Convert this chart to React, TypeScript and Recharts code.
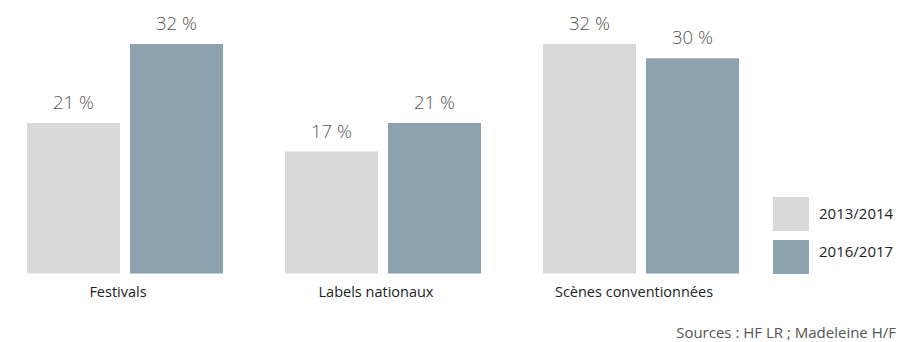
import React from 'react';
import { BarChart, Bar, XAxis, YAxis, LabelList } from 'recharts';

const categories = ['Festivals', 'Labels nationaux', 'Scènes conventionnées'];
const values2013 = [21, 17, 32];
const values2016 = [32, 21, 30];
const seriesNames = ['2013/2014', '2016/2017'];
const colors = ['#d9d9d9', '#8ca3af'];
const sourceText = 'Sources : HF LR ; Madeleine H/F';

const data = categories.map((name, i) => ({
  name,
  a: values2013[i],
  b: values2016[i],
}));

const FONT = '"Open Sans", sans-serif';

const pct = (v: any) => `${v} %`;

const LegendBox = () => (
  <div style={{ position: 'absolute', left: 773, top: 197, fontFamily: FONT }}>
    {seriesNames.map((s, i) => (
      <div key={s} style={{ position: 'relative', height: 34, marginBottom: 9 }}>
        <div style={{ width: 36, height: 34, background: colors[i] }} />
        <span
          style={{
            position: 'absolute',
            left: 46,
            top: i === 0 ? 6 : 1,
            fontSize: 15,
            color: '#222',
            whiteSpace: 'nowrap',
          }}
        >
          {s}
        </span>
      </div>
    ))}
  </div>
);

const App: React.FC = () => {
  return (
    <div
      style={{
        position: 'fixed',
        left: 0,
        top: 0,
        width: 900,
        height: 342,
        background: '#fff',
      }}
    >
      <BarChart
        width={900}
        height={342}
        data={data}
        margin={{ top: 44, right: 130, bottom: 38.5, left: -4 }}
        barCategoryGap={31}
        barGap={10}
      >
        <XAxis
          dataKey="name"
          axisLine={false}
          tickLine={false}
          height={30}
          tick={{ fontFamily: FONT, fontSize: 14.5, fill: '#222', dx: -7, dy: 5 }}
          interval={0}
        />
        <YAxis hide domain={[0, 32]} />
        <Bar dataKey="a" name={seriesNames[0]} fill={colors[0]} isAnimationActive={false}>
          <LabelList
            dataKey="a"
            position="top"
            offset={14}
            formatter={pct}
            style={{ fontFamily: FONT, fontSize: 18.5, fill: '#555', fontWeight: 300 }}
          />
        </Bar>
        <Bar dataKey="b" name={seriesNames[1]} fill={colors[1]} isAnimationActive={false}>
          <LabelList
            dataKey="b"
            position="top"
            offset={14}
            formatter={pct}
            style={{ fontFamily: FONT, fontSize: 18.5, fill: '#555', fontWeight: 300 }}
          />
        </Bar>
      </BarChart>
      <LegendBox />
      <div
        style={{
          position: 'absolute',
          left: 500,
          width: 396,
          textAlign: 'right',
          top: 322,
          fontFamily: FONT,
          fontSize: 15,
          color: '#555',
          whiteSpace: 'nowrap',
        }}
      >
        {sourceText}
      </div>
    </div>
  );
};

export default App;
